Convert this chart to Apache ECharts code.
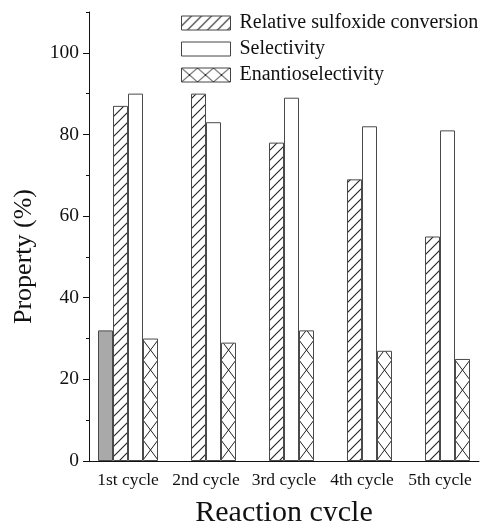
<!DOCTYPE html>
<html>
<head>
<meta charset="utf-8">
<script src="https://cdn.jsdelivr.net/npm/echarts@6/dist/echarts.min.js"></script>
<style>html,body{margin:0;padding:0;background:#fff}#c{width:486px;height:521px}</style>
</head>
<body>
<div id="c"></div>
<script>
const categories = ['1st cycle', '2nd cycle', '3rd cycle', '4th cycle', '5th cycle'];
const initialValues = [32, '-', '-', '-', '-'];
const conversion = [87, 90, 78, 69, 55];
const selectivity = [90, 83, 89, 82, 81];
const enantio = [30, 29, 32, 27, 25];
const yMajorTicks = [0, 20, 40, 60, 80, 100];
const yMinorTicks = [10, 30, 50, 70, 90, 110];
const seriesNames = ['Relative sulfoxide conversion', 'Selectivity', 'Enantioselectivity'];

const FONT = 'Liberation Serif';
const INK = '#222';

function hatchPattern() {
  const c = document.createElement('canvas'); c.width = 10; c.height = 10;
  const g = c.getContext('2d');
  g.fillStyle = '#fff'; g.fillRect(0, 0, 10, 10);
  g.strokeStyle = INK; g.lineWidth = 1.1;
  g.beginPath();
  for (const o of [-10, 0, 10]) { g.moveTo(o - 1, 11); g.lineTo(o + 11, -1); }
  g.stroke();
  return { image: c, repeat: 'repeat' };
}
function crossPattern(w, h, cellW, ox, oy) {
  const c = document.createElement('canvas'); c.width = w; c.height = h;
  const g = c.getContext('2d');
  g.fillStyle = '#fff'; g.fillRect(0, 0, w, h);
  g.strokeStyle = INK; g.lineWidth = 1;
  g.beginPath();
  for (const dx of [-w, 0, w]) for (const dy of [-h, 0, h]) {
    const x0 = ox + dx, y0 = oy + dy;
    g.moveTo(x0, y0); g.lineTo(x0 + cellW, y0 + h);
    g.moveTo(x0 + cellW, y0); g.lineTo(x0, y0 + h);
  }
  g.stroke();
  return { image: c, repeat: 'repeat' };
}
function legendCross() {
  const c = document.createElement('canvas'); c.width = 16; c.height = 14;
  const g = c.getContext('2d');
  g.fillStyle = '#fff'; g.fillRect(0, 0, 16, 14);
  g.strokeStyle = INK; g.lineWidth = 1;
  g.beginPath();
  for (const dx of [-16, 0, 16]) { g.moveTo(dx, 0); g.lineTo(dx + 16, 14); g.moveTo(dx + 16, 0); g.lineTo(dx, 14); }
  g.stroke();
  return { image: c, repeat: 'repeat' };
}

const hatch = hatchPattern();
const cross = crossPattern(78, 20, 15, 65, 0);
const border = { borderColor: '#4a4a4a', borderWidth: 1 };

const chart = echarts.init(document.getElementById('c'), null, { renderer: 'canvas' });
chart.setOption({
  animation: false,
  backgroundColor: '#fff',
  grid: { left: 89, right: 7, top: 12, bottom: 60, containLabel: false, outerBoundsMode: 'none' },
  legend: {
    orient: 'vertical', left: 181, top: 13, padding: 0,
    itemWidth: 49, itemHeight: 14, itemGap: 6,
    icon: 'rect',
    textStyle: { fontFamily: FONT, fontSize: 20, color: '#111', lineHeight: 20, padding: [0, 0, 0, 4] },
    data: [
      { name: seriesNames[0], itemStyle: { color: hatch, borderColor: '#444', borderWidth: 1 } },
      { name: seriesNames[1], itemStyle: { color: '#fff', borderColor: '#444', borderWidth: 1 } },
      { name: seriesNames[2], itemStyle: { color: legendCross(), borderColor: '#444', borderWidth: 1 } }
    ]
  },
  xAxis: [{
    type: 'category', data: categories, position: 'bottom',
    name: 'Reaction cycle', nameLocation: 'middle', nameGap: 37,
    nameTextStyle: { fontFamily: FONT, fontSize: 30, color: '#111' },
    axisLine: { lineStyle: { color: '#111', width: 1 } },
    axisTick: { alignWithLabel: true, length: 6, lineStyle: { color: '#111' } },
    axisLabel: { interval: 0, fontFamily: FONT, fontSize: 17.5, color: '#111', margin: 10 },
    splitLine: { show: false }
  }, {
    type: 'category', data: categories, position: 'bottom',
    axisLine: { show: false },
    axisTick: { interval: 0, length: 3, lineStyle: { color: '#111' } },
    axisLabel: { show: false },
    splitLine: { show: false }
  }],
  yAxis: [{
    type: 'value', min: 0, max: 110,
    name: 'Property (%)', nameLocation: 'middle', nameGap: 52,
    nameTextStyle: { fontFamily: FONT, fontSize: 26, color: '#111', padding: [0, 40, 0, 0] },
    axisLine: { show: true, lineStyle: { color: '#111', width: 1 } },
    axisTick: { show: true, length: 6, customValues: yMajorTicks, lineStyle: { color: '#111' } },
    axisLabel: { fontFamily: FONT, fontSize: 19.5, color: '#111', margin: 10, customValues: yMajorTicks },
    splitLine: { show: false }
  }, {
    type: 'value', min: 0, max: 110, position: 'left', offset: 0,
    axisLine: { show: false },
    axisTick: { show: true, length: 3, customValues: yMinorTicks, lineStyle: { color: '#111' } },
    axisLabel: { show: false, customValues: yMinorTicks },
    splitLine: { show: false }
  }],
  series: [
    { name: 'Initial', type: 'bar', barWidth: 15, barGap: 0, data: initialValues,
      itemStyle: Object.assign({ color: '#a9a9a9' }, border) },
    { name: seriesNames[0], type: 'bar', barWidth: 15, barGap: 0, data: conversion,
      itemStyle: Object.assign({ color: hatch }, border) },
    { name: seriesNames[1], type: 'bar', barWidth: 15, barGap: 0, data: selectivity,
      itemStyle: Object.assign({ color: '#fff' }, border) },
    { name: seriesNames[2], type: 'bar', barWidth: 15, barGap: 0, data: enantio,
      itemStyle: Object.assign({ color: cross }, border) }
  ]
});
</script>
</body>
</html>
